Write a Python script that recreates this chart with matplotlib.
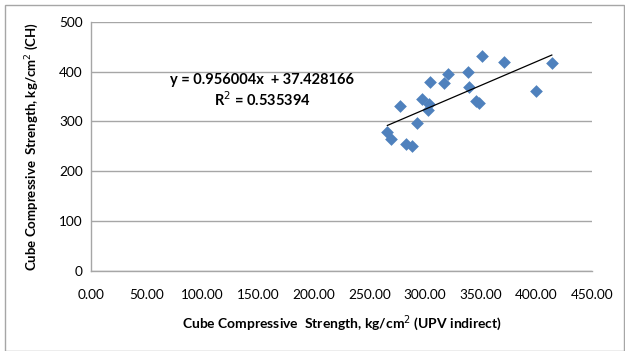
import matplotlib
matplotlib.use("Agg")
import matplotlib.pyplot as plt
from matplotlib.patches import Rectangle
import numpy as np

plt.rcParams['font.family'] = ['Lato', 'DejaVu Sans']

x_upv = [266.2, 269.3, 277.6, 282.7, 288.4, 292.6, 297.7, 304.0, 302.6, 304.4,
         317.5, 320.8, 339.0, 339.7, 346.2, 348.5, 351.6, 371.1, 400.1, 413.9]
y_ch = [279.4, 264.2, 331.9, 254.7, 251.3, 296.0, 345.5, 334.9, 323.5, 379.0,
        377.6, 395.0, 399.0, 368.3, 340.2, 337.0, 430.6, 419.9, 361.6, 416.6]
slope = 0.956004
intercept = 37.428166
eq_text = "y = 0.956004x  + 37.428166"
r2_text = "R$^2$ = 0.535394"
x_ticks = [0, 50, 100, 150, 200, 250, 300, 350, 400, 450]
y_ticks = [0, 100, 200, 300, 400, 500]

fig = plt.figure(figsize=(6.25, 3.51), dpi=100)
fig.patches.append(Rectangle((5/625, 0), 619/625, 346/351, transform=fig.transFigure,
                             fill=False, edgecolor='#a6a6a6', linewidth=1.0))
ax = fig.add_axes([91/625, 80/351, 501/625, 249.3/351])

ax.set_xlim(0, 450)
ax.set_ylim(0, 500)
ax.set_xticks(x_ticks)
ax.set_xticklabels([f"{v:.2f}" for v in x_ticks])
ax.set_yticks(y_ticks)
ax.yaxis.grid(True, color='#a6a6a6', linewidth=1.0)
ax.set_axisbelow(True)
for s in ['top', 'right']:
    ax.spines[s].set_visible(False)
for s in ['left', 'bottom']:
    ax.spines[s].set_color('#a6a6a6')
    ax.spines[s].set_linewidth(1.0)
ax.tick_params(axis='both', length=0, labelsize=9.8, colors='black', pad=6)
ax.tick_params(axis='x', pad=13)

ax.scatter(x_upv, y_ch, marker='D', s=42, color='#4f81bd', zorder=3, linewidths=0)
xs = np.array([min(x_upv), max(x_upv)])
ax.plot(xs, slope * xs + intercept, color='black', linewidth=0.9, zorder=4)

fig.text(262/625, 1 - 80/351, eq_text, ha='center', va='center', fontsize=10.5, fontweight='bold')
fig.text(262/625, 1 - 100/351, r2_text, ha='center', va='center', fontsize=10.5, fontweight='bold')

ax.set_xlabel("Cube Compressive  Strength, kg/cm$^2$ (UPV indirect)", fontsize=10, fontweight='bold', labelpad=9)
ax.set_ylabel("Cube Compressive  Strength, kg/cm$^2$ (CH)", fontsize=9.5, fontweight='bold', labelpad=13)

fig.savefig("out.png", dpi=100)
